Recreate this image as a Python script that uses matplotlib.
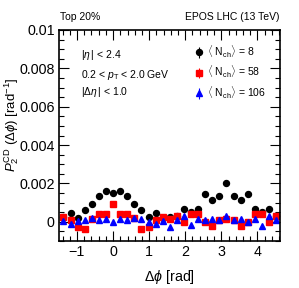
import numpy as np
import matplotlib
matplotlib.use("Agg")
import matplotlib.pyplot as plt
from matplotlib.ticker import MultipleLocator

plt.rcParams['font.family'] = ['Liberation Sans', 'DejaVu Sans']
plt.rcParams['mathtext.fontset'] = 'custom'
plt.rcParams['mathtext.rm'] = 'Liberation Sans'
plt.rcParams['mathtext.it'] = 'Liberation Sans:italic'
plt.rcParams['mathtext.bf'] = 'Liberation Sans:bold'

# bin centres: k*pi/16, k = -7 .. 23
k = np.arange(-7, 24)
dphi = k * np.pi / 16

nch8 = [0.00026, 0.00048, 0.00022, 0.00061, 0.00092, 0.00133, 0.00163, 0.00152,
        0.00163, 0.00133, 0.00092, 0.00061, 0.00024, 0.00048, 0.00022, 0.00024,
        0.00028, 0.00068, 0.00050, 0.00068, 0.00144, 0.00114, 0.00135, 0.00203,
        0.00137, 0.00114, 0.00145, 0.00069, 0.00052, 0.00069, 0.00030]
nch58 = [0.00026, 0.00009, -0.00028, -0.00035, 0.00016, 0.00040, 0.00042, 0.00094,
         0.00043, 0.00040, 0.00019, -0.00035, -0.00028, 0.00009, 0.00026, 0.00016,
         0.00033, 0.00000, 0.00043, 0.00040, -0.00003, -0.00019, 0.00010, 0.00016,
         0.00010, -0.00019, -0.00003, 0.00040, 0.00043, 0.00000, 0.00030]
nch106 = [0.00002, -0.00009, 0.00002, 0.00012, 0.00019, 0.00010, 0.00016, -0.00002,
          0.00016, 0.00010, 0.00022, 0.00016, -0.00002, -0.00009, 0.00005, -0.00026,
          0.00012, 0.00028, -0.00016, 0.00014, 0.00012, 0.00017, 0.00012, 0.00030,
          0.00010, 0.00017, -0.00002, 0.00013, -0.00019, 0.00028, 0.00010]
err = 0.00004

fig = plt.figure(figsize=(2.99, 2.88), dpi=100)
ax = fig.add_axes([0.197, 0.163, 0.739, 0.733])

ax.errorbar(dphi, nch8, yerr=err, fmt='o', color='black', ms=4.3, elinewidth=0.8,
            capsize=0, label=r'$\langle$ N$_{\rm ch}\rangle$ = 8')
ax.errorbar(dphi, nch58, yerr=err, fmt='s', color='red', ms=4.2, elinewidth=0.8,
            capsize=0, label=r'$\langle$ N$_{\rm ch}\rangle$ = 58')
ax.errorbar(dphi, nch106, yerr=err, fmt='^', color='blue', ms=4.3, elinewidth=0.8,
            capsize=0, label=r'$\langle$ N$_{\rm ch}\rangle$ = 106')

ax.set_xlim(-1.5, 4.62)
ax.set_ylim(-0.001, 0.01)
ax.xaxis.set_major_locator(MultipleLocator(1))
ax.xaxis.set_minor_locator(MultipleLocator(0.2))
ax.yaxis.set_minor_locator(MultipleLocator(0.0005))
ax.set_yticks([0, 0.002, 0.004, 0.006, 0.008, 0.01])
ax.set_yticklabels(['0', '0.002', '0.004', '0.006', '0.008', '0.01'])
ax.tick_params(which='both', direction='in', top=True, right=True, labelsize=10.3, width=0.8)
ax.tick_params(which='major', length=7, pad=3)
ax.tick_params(which='minor', length=3.5)
for s in ax.spines.values():
    s.set_linewidth(1.2)

ax.set_xlabel(r'$\Delta\phi$ [rad]', fontsize=10.3)
ax.xaxis.set_label_coords(0.5, -0.128)
ax.set_ylabel(r'$P_2^{\rm CD}$ ($\Delta\phi$) [rad$^{-1}$]', fontsize=9.5)
ax.yaxis.set_label_coords(-0.172, 0.55)

fig.text(0.2, 0.94, 'Top 20%', fontsize=7.5, va='center')
fig.text(0.936, 0.94, 'EPOS LHC (13 TeV)', fontsize=7.5, va='center', ha='right')

ax.text(0.1, 0.881, r'$|\eta\,|$ < 2.4', transform=ax.transAxes, fontsize=7.5, va='center')
ax.text(0.1, 0.787, r'0.2 < $p_{\rm T}$ < 2.0 GeV', transform=ax.transAxes, fontsize=7.5, va='center')
ax.text(0.1, 0.706, r'$|\Delta\eta\,|$ < 1.0', transform=ax.transAxes, fontsize=7.5, va='center')

ax.legend(loc='upper left', bbox_to_anchor=(0.585, 0.96), frameon=False, fontsize=7.5,
          handlelength=1.0, handletextpad=0.3, labelspacing=0.4, borderpad=0)

fig.savefig('out.png', dpi=100)
